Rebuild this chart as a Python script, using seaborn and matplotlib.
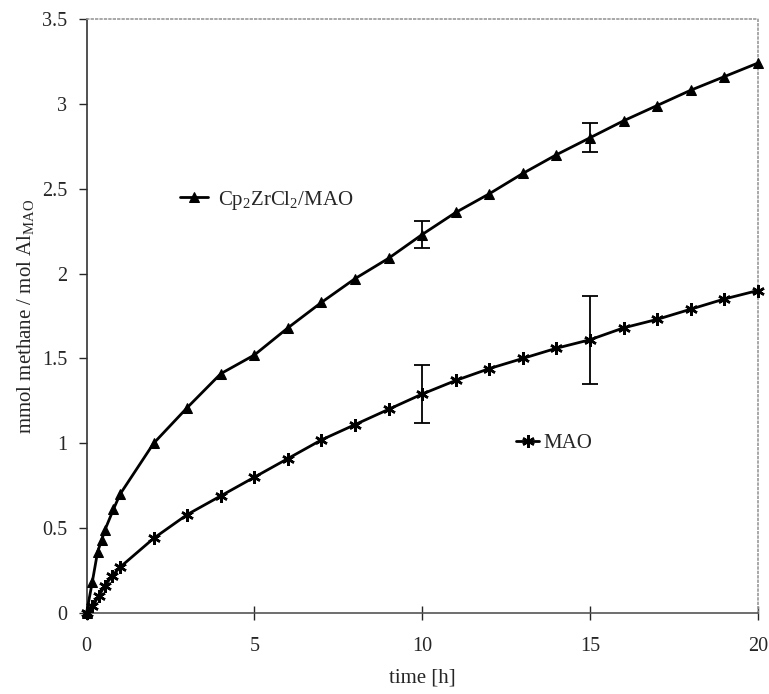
import matplotlib

matplotlib.use("Agg")
import matplotlib.pyplot as plt
import pandas as pd
import seaborn as sns

# Cp2ZrCl2/MAO series
zr_time = [0, 0.17, 0.33, 0.45, 0.55, 0.8, 1, 2, 3, 4, 5, 6, 7, 8, 9, 10,
           11, 12, 13, 14, 15, 16, 17, 18, 19, 20]
zr_methane = [0, 0.18, 0.36, 0.43, 0.49, 0.61, 0.70, 1.00, 1.21, 1.41, 1.52, 1.68,
              1.83, 1.97, 2.09, 2.23, 2.36, 2.47, 2.59, 2.70, 2.80, 2.90, 2.99,
              3.08, 3.16, 3.24]

# MAO series
mao_time = [0, 0.17, 0.37, 0.54, 0.77, 1, 2, 3, 4, 5, 6, 7, 8, 9, 10,
            11, 12, 13, 14, 15, 16, 17, 18, 19, 20]
mao_methane = [0, 0.04, 0.10, 0.16, 0.22, 0.27, 0.44, 0.58, 0.69, 0.80, 0.91, 1.02,
               1.11, 1.20, 1.29, 1.37, 1.44, 1.50, 1.56, 1.61, 1.68, 1.73, 1.79,
               1.85, 1.90]

# error bars (only shown at 10 h and 15 h)
err_time = [10, 15]
zr_err = [0.08, 0.085]
mao_err = [0.17, 0.26]

sns.set_style("ticks")
plt.rcParams["font.family"] = ["Liberation Serif", "DejaVu Serif"]
plt.rcParams["mathtext.fontset"] = "custom"
plt.rcParams["mathtext.rm"] = "Liberation Serif"
plt.rcParams["mathtext.it"] = "Liberation Serif:italic"

zr_df = pd.DataFrame({"time": zr_time, "methane": zr_methane})
mao_df = pd.DataFrame({"time": mao_time, "methane": mao_methane})

fig = plt.figure(figsize=(7.69, 6.94), dpi=100)
ax = fig.add_axes([0.1125, 0.1167, 0.873, 0.856])

sns.lineplot(data=zr_df, x="time", y="methane", ax=ax, color="black", lw=2,
             marker="^", markersize=7.5, markeredgecolor="black", sort=False,
             clip_on=False, zorder=5)
sns.lineplot(data=mao_df, x="time", y="methane", ax=ax, color="black", lw=2,
             marker=(6, 2, 0), markersize=9, markeredgewidth=1.8,
             markeredgecolor="black", sort=False, clip_on=False, zorder=5)

# error bars at selected times
zr_at = [zr_methane[zr_time.index(t)] for t in err_time]
mao_at = [mao_methane[mao_time.index(t)] for t in err_time]
ax.errorbar(err_time, zr_at, yerr=zr_err, fmt="none", ecolor="black",
            elinewidth=1.3, capsize=6, capthick=1.3)
ax.errorbar(err_time, mao_at, yerr=mao_err, fmt="none", ecolor="black",
            elinewidth=1.3, capsize=6, capthick=1.3)

ax.set_xlim(0, 20)
ax.set_ylim(0, 3.5)
ax.set_xticks([0, 5, 10, 15, 20])
ax.set_yticks([0, 0.5, 1, 1.5, 2, 2.5, 3, 3.5])
ax.set_yticklabels(["0", "0.5", "1", "1.5", "2", "2.5", "3", "3.5"])
ax.tick_params(axis="y", direction="out", length=6, width=1, labelsize=14.5, pad=8)
ax.tick_params(axis="x", direction="inout", length=10, width=1, labelsize=14.5, pad=12)

ax.set_xlabel("time [h]", fontsize=15, labelpad=9)
ax.set_ylabel(r"mmol methane / mol Al$_{\mathrm{MAO}}$", fontsize=15, labelpad=4)

for side in ["top", "right"]:
    ax.spines[side].set_visible(True)
    ax.spines[side].set_color("#9a9a9a")
    ax.spines[side].set_linestyle(":")
    ax.spines[side].set_linewidth(1.2)
ax.spines["bottom"].set_color("#555555")
ax.spines["bottom"].set_linewidth(1.2)
ax.spines["left"].set_color("#333333")
ax.spines["left"].set_linewidth(1.2)

# two separate inline labels
lines = ax.get_lines()
leg1 = ax.legend([lines[0]], [r"Cp$_2$ZrCl$_2$/MAO"], loc="center left",
                 bbox_to_anchor=(0.14, 0.695), frameon=False, fontsize=15,
                 handlelength=1.3, handletextpad=0.5, borderpad=0, borderaxespad=0)
ax.add_artist(leg1)
ax.legend([lines[1]], ["MAO"], loc="center left",
          bbox_to_anchor=(0.64, 0.285), frameon=False, fontsize=15,
          handlelength=1.1, handletextpad=0.2, borderpad=0, borderaxespad=0)

fig.savefig("out.png", dpi=100)
plt.close(fig)
